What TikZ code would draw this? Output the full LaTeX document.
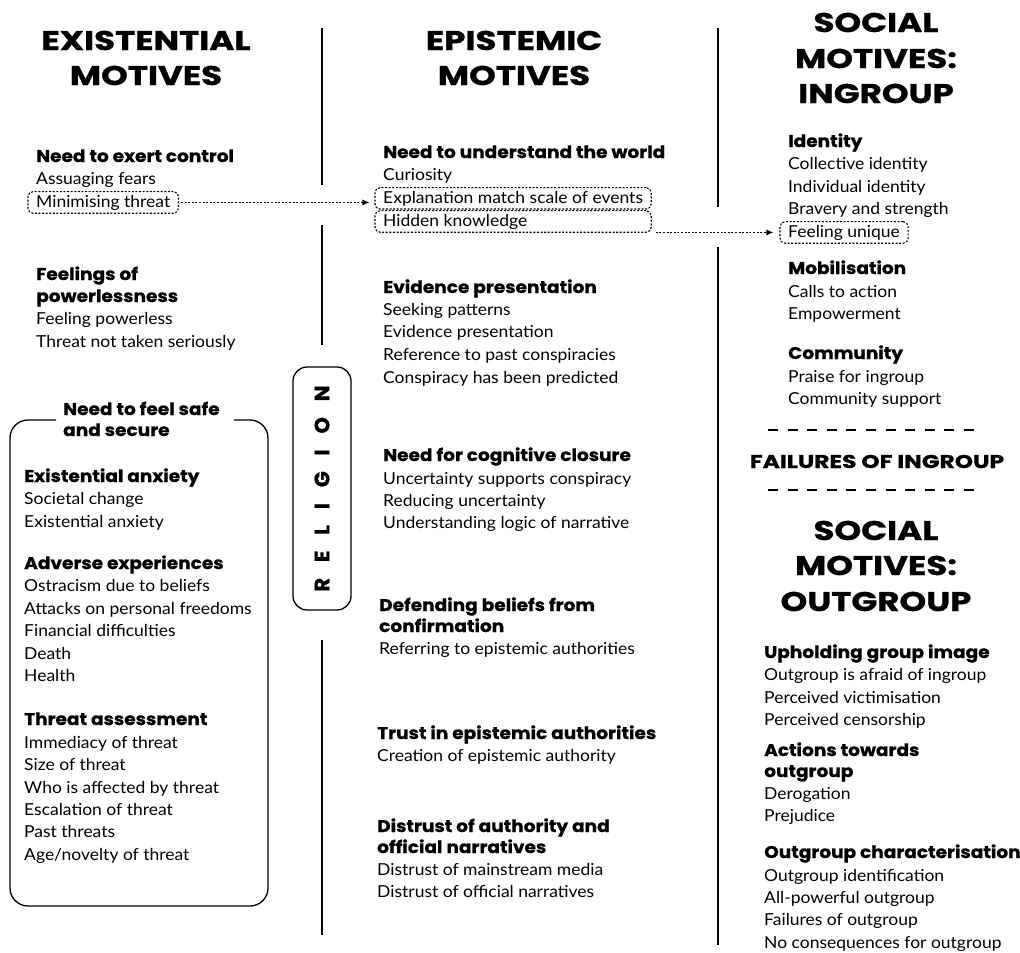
\documentclass[tikz,border=0pt]{standalone}
\usepackage{fontspec}
\setmainfont{Lato}[FakeStretch=1.06]
\newfontfamily\heavyfam{Poppins}[FakeStretch=1.09, FakeBold=0.8]
\newfontfamily\titlefam{Poppins}[FakeStretch=1.26, FakeBold=1]
\newfontfamily\relfam{Poppins}[LetterSpace=75, FakeBold=0.6]
\usetikzlibrary{fit,arrows.meta}

\tikzset{
  title/.style={font=\titlefam\bfseries\fontsize{27}{32}\selectfont, anchor=base, inner sep=0pt},
  head/.style={font=\heavyfam\bfseries\fontsize{17}{20}\selectfont, anchor=base west, inner sep=0pt},
  item/.style={font=\fontsize{16.5}{20}\selectfont, anchor=base west, inner sep=0pt},
  tagbox/.style={draw, dash pattern=on 2pt off 1.6pt, rounded corners=5pt, inner xsep=8pt, inner ysep=3pt, line width=1.1pt},
  divider/.style={line width=1.3pt},
  link/.style={dash pattern=on 2pt off 1.6pt, line width=1.1pt, -{Latex[length=7pt,width=6pt]}},
  dashrule/.style={line width=1.5pt, dash pattern=on 10pt off 9.6pt},
}

\begin{document}
\begin{tikzpicture}[x=1pt,y=-1pt]
\useasboundingbox (0,0) rectangle (1020,953);

% ---------- column dividers ----------
\draw[divider] (322,28) -- (322,185);
\draw[divider] (322,225) -- (322,345);
\draw[divider] (322,640) -- (322,935);
\draw[divider] (718,28) -- (718,207);
\draw[divider] (718,247) -- (718,945);

% ---------- religion band ----------
\node[draw, divider, rounded corners=14pt, minimum width=58pt, minimum height=243pt, inner sep=0pt] (rel) at (322,488.5) {};
\node[rotate=90, font=\relfam\bfseries\fontsize{21}{24}\selectfont, inner sep=0pt] (reltext) at (rel.center) {RELIGION};

% ---------- existential motives ----------
\node[title] (t1a) at (146,50) {EXISTENTIAL};
\node[title] (t1b) at (146,85) {MOTIVES};

\node[head] (c1) at (36,162) {Need to exert control};
\node[item] (c2) at (36,184) {Assuaging fears};
\node[item] (c3) at (36,207) {Minimising threat};
\node[tagbox, fit=(c3)] (c3tag) {};

\node[head] (p1) at (36,280) {Feelings of};
\node[head] (p2) at (36,302) {powerlessness};
\node[item] (p3) at (36,324) {Feeling powerless};
\node[item] (p4) at (36,347) {Threat not taken seriously};

% safe and secure frame with a gap for its title
\draw[divider, rounded corners=18pt] (56,420) -- (10,420) -- (10,906) -- (268,906) -- (268,420) -- (234,420);
\node[head] (s1) at (63,415) {Need to feel safe};
\node[head] (s2) at (63,436) {and secure};

\node[head] (a1) at (24,482) {Existential anxiety};
\node[item] (a2) at (24,504) {Societal change};
\node[item] (a3) at (24,527) {Existential anxiety};

\node[head] (b1) at (24,569) {Adverse experiences};
\node[item] (b2) at (24,591) {Ostracism due to beliefs};
\node[item] (b3) at (24,614) {Attacks on personal freedoms};
\node[item] (b4) at (24,636) {Financial difficulties};
\node[item] (b5) at (24,659) {Death};
\node[item] (b6) at (24,681) {Health};

\node[head] (r1) at (24,725) {Threat assessment};
\node[item] (r2) at (24,748) {Immediacy of threat};
\node[item] (r3) at (24,770) {Size of threat};
\node[item] (r4) at (24,793) {Who is affected by threat};
\node[item] (r5) at (24,815) {Escalation of threat};
\node[item] (r6) at (24,837) {Past threats};
\node[item] (r7) at (24,860) {Age/novelty of threat};

% ---------- epistemic motives ----------
\node[title] (t2a) at (514,50) {EPISTEMIC};
\node[title] (t2b) at (514,85) {MOTIVES};

\node[head] (u1) at (383,158) {Need to understand the world};
\node[item] (u2) at (383,180) {Curiosity};
\node[item] (u3) at (383,203) {Explanation match scale of events};
\node[item] (u4) at (383,226) {Hidden knowledge};
\node[tagbox, fit=(u3)] (u3tag) {};
\node[tagbox, fit=(u4)(u3.east |- u4.south)] (u4tag) {};

\node[head] (v1) at (383,293) {Evidence presentation};
\node[item] (v2) at (383,315) {Seeking patterns};
\node[item] (v3) at (383,337) {Evidence presentation};
\node[item] (v4) at (383,360) {Reference to past conspiracies};
\node[item] (v5) at (383,383) {Conspiracy has been predicted};

\node[head] (w1) at (383,461) {Need for cognitive closure};
\node[item] (w2) at (383,484) {Uncertainty supports conspiracy};
\node[item] (w3) at (383,506) {Reducing uncertainty};
\node[item] (w4) at (383,528) {Understanding logic of narrative};

\node[head] (d1) at (379,611) {Defending beliefs from};
\node[head] (d2) at (379,632) {confirmation};
\node[item] (d3) at (379,654) {Referring to epistemic authorities};

\node[head] (q1) at (377,739) {Trust in epistemic authorities};
\node[item] (q2) at (377,761) {Creation of epistemic authority};

\node[head] (x1) at (377,832) {Distrust of authority and};
\node[head] (x2) at (377,853) {official narratives};
\node[item] (x3) at (377,875) {Distrust of mainstream media};
\node[item] (x4) at (377,897) {Distrust of official narratives};

% ---------- social motives: ingroup ----------
\node[title] (t3a) at (876,32) {SOCIAL};
\node[title] (t3b) at (876,68) {MOTIVES:};
\node[title] (t3c) at (876,103) {INGROUP};

\node[head] (i1) at (788,147) {Identity};
\node[item] (i2) at (788,169) {Collective identity};
\node[item] (i3) at (788,192) {Individual identity};
\node[item] (i4) at (788,214) {Bravery and strength};
\node[item] (i5) at (788,237) {Feeling unique};
\node[tagbox, fit=(i5)] (i5tag) {};

\node[head] (m1) at (788,274) {Mobilisation};
\node[item] (m2) at (788,297) {Calls to action};
\node[item] (m3) at (788,319) {Empowerment};

\node[head] (k1) at (788,359) {Community};
\node[item] (k2) at (788,382) {Praise for ingroup};
\node[item] (k3) at (788,404) {Community support};

\draw[dashrule] (768,430) -- (978,430);
\node[title, font=\titlefam\bfseries\fontsize{18.5}{22}\selectfont] (fail) at (877,468) {FAILURES OF INGROUP};
\draw[dashrule] (768,490) -- (978,490);

% ---------- social motives: outgroup ----------
\node[title] (t4a) at (876,540) {SOCIAL};
\node[title] (t4b) at (876,575) {MOTIVES:};
\node[title] (t4c) at (876,611) {OUTGROUP};

\node[head] (g1) at (764,658) {Upholding group image};
\node[item] (g2) at (764,680) {Outgroup is afraid of ingroup};
\node[item] (g3) at (764,703) {Perceived victimisation};
\node[item] (g4) at (764,725) {Perceived censorship};

\node[head] (n1) at (764,756) {Actions towards};
\node[head] (n2) at (764,777) {outgroup};
\node[item] (n3) at (764,799) {Derogation};
\node[item] (n4) at (764,821) {Prejudice};

\node[head] (o1) at (764,858) {Outgroup characterisation};
\node[item] (o2) at (764,881) {Outgroup identification};
\node[item] (o3) at (764,903) {All-powerful outgroup};
\node[item] (o4) at (764,925) {Failures of outgroup};
\node[item] (o5) at (764,948) {No consequences for outgroup};

% ---------- links between columns ----------
\draw[link, shorten >=5pt, shorten <=2pt] (c3tag.east) -- (c3tag.east -| u3tag.west);
\draw[link, shorten >=6pt, shorten <=4pt] (i5tag.west -| u4tag.east) -- (i5tag.west);
\end{tikzpicture}
\end{document}
